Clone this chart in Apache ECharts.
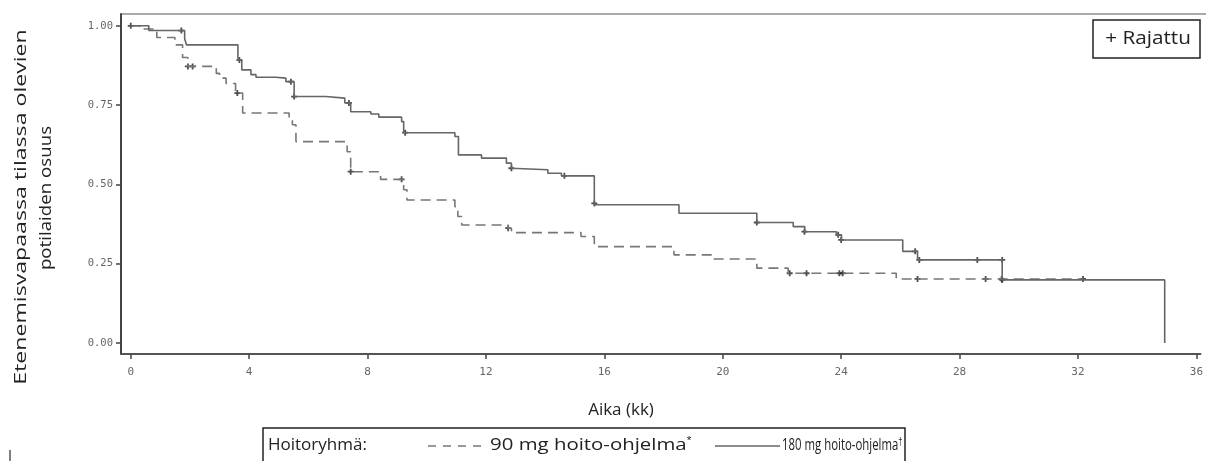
<!DOCTYPE html>
<html><head><meta charset="utf-8">
<script src="https://cdn.jsdelivr.net/npm/echarts@6/dist/echarts.min.js"></script>
<style>html,body{margin:0;padding:0;background:#fff}#c{width:1206px;height:461px}</style>
</head><body><div id="c"></div>
<script>
// Tick values
const xTicks = [0, 4, 8, 12, 16, 20, 24, 28, 32, 36];
const yTicks = [0, 0.25, 0.5, 0.75, 1];

// Kaplan-Meier steps [time (months), survival] — 180 mg (solid)
const arm180 = [[0,1],[0.61,0.985],[1.82,0.96],[1.88,0.94],[3.62,0.892],[3.75,0.861],[4.06,0.846],[4.23,0.838],
  [4.9,0.835],[5.24,0.824],[5.52,0.777],[6.58,0.772],[7.23,0.757],[7.43,0.729],[8.11,0.722],[8.38,0.712],
  [9.15,0.698],[9.22,0.663],[10.95,0.651],[11.07,0.593],[11.85,0.583],[12.69,0.567],[12.86,0.551],[12.91,0.546],
  [14.09,0.535],[14.55,0.527],[15.66,0.436],[18.52,0.409],[21.15,0.38],[22.38,0.367],[22.77,0.351],[23.84,0.341],
  [24.01,0.325],[26.08,0.289],[26.58,0.262],[29.44,0.199],[34.93,0]];
// 90 mg (dashed)
const arm90 = [[0,1],[0.3,0.99],[0.88,0.963],[1.49,0.94],[1.75,0.9],[1.93,0.872],[2.89,0.85],[3.0,0.835],
  [3.22,0.818],[3.54,0.788],[3.78,0.725],[5.35,0.71],[5.46,0.688],[5.58,0.635],[7.31,0.603],[7.43,0.54],
  [8.44,0.516],[9.22,0.483],[9.33,0.451],[10.95,0.43],[11.05,0.399],[11.18,0.372],[12.75,0.362],[12.86,0.348],
  [15.21,0.336],[15.66,0.304],[18.35,0.278],[19.64,0.265],[21.15,0.236],[22.21,0.22],[25.86,0.202],[32.17,0.202]];

// Censored observations
const cens180 = [[0,1],[1.71,0.985],[3.67,0.892],[5.41,0.824],[5.52,0.777],[7.37,0.757],[9.27,0.663],[12.86,0.551],
  [14.65,0.527],[15.66,0.44],[21.15,0.38],[22.76,0.351],[23.9,0.341],[24.0,0.325],[26.5,0.289],[26.64,0.262],
  [28.6,0.262],[29.44,0.262],[29.44,0.199]];
const cens90 = [[1.93,0.872],[2.09,0.872],[3.6,0.788],[7.43,0.54],[9.15,0.516],[12.75,0.362],[22.26,0.22],
  [22.83,0.22],[23.94,0.22],[24.05,0.22],[26.58,0.202],[28.88,0.202],[29.42,0.202],[32.17,0.202]];

const TXT = '"Open Sans", sans-serif';
const MONO = '"DejaVu Sans Mono", monospace';
const plus = 'path://M3.5,0H6.5V3.5H10V6.5H6.5V10H3.5V6.5H0V3.5H3.5Z';

const chart = echarts.init(document.getElementById('c'), null, {renderer: 'canvas'});
chart.setOption({
  animation: false,
  backgroundColor: '#fff',
  grid: {left: 121, right: 0, top: 14, bottom: 107, containLabel: false},
  xAxis: {
    type: 'value', min: -0.33, max: 36.14,
    axisLine: {show: true, onZero: false, lineStyle: {color: '#555', width: 2}},
    axisTick: {show: true, length: 5, customValues: xTicks, lineStyle: {color: '#444', width: 1.5}},
    axisLabel: {customValues: xTicks, margin: 13, color: '#666', fontFamily: MONO, fontSize: 11},
    splitLine: {show: false}
  },
  yAxis: {
    type: 'value', min: -0.0346, max: 1.0372,
    axisLine: {show: true, onZero: false, lineStyle: {color: '#444', width: 2}},
    axisTick: {show: true, length: 5, customValues: yTicks, lineStyle: {color: '#444', width: 1.5}},
    axisLabel: {customValues: yTicks, margin: 8, color: '#666', fontFamily: MONO, fontSize: 10.5,
      formatter: v => v.toFixed(2)},
    splitLine: {show: false}
  },
  series: [
    {type: 'line', name: '90 mg', data: arm90, step: 'end', symbol: 'none',
     lineStyle: {color: '#777', width: 1.6, type: [10, 6]}},
    {type: 'line', name: '180 mg', data: arm180, step: 'end', symbol: 'none',
     lineStyle: {color: '#666', width: 1.6}},
    {type: 'scatter', data: cens90, symbol: plus, symbolSize: 6, itemStyle: {color: '#222'}},
    {type: 'scatter', data: cens180, symbol: plus, symbolSize: 6, itemStyle: {color: '#222'}}
  ],
  graphic: [
    {type: 'line', shape: {x1: 121, y1: 14, x2: 1206, y2: 14}, style: {stroke: '#aaa', lineWidth: 2}},
    {type: 'text', x: 21, y: 207, rotation: Math.PI / 2, scaleX: 1.36,
     style: {text: 'Etenemisvapaassa tilassa olevien', font: '17px ' + TXT, fill: '#222', align: 'center', verticalAlign: 'middle'}},
    {type: 'text', x: 46, y: 198, rotation: Math.PI / 2, scaleX: 1.1,
     style: {text: 'potilaiden osuus', font: '17px ' + TXT, fill: '#222', align: 'center', verticalAlign: 'middle'}},
    {type: 'text', x: 621, y: 410, style: {text: 'Aika (kk)', font: '17px ' + TXT, fill: '#222', align: 'center', verticalAlign: 'middle'}},
    {type: 'rect', shape: {x: 1093, y: 20, width: 107, height: 38}, style: {fill: '#fff', stroke: '#222', lineWidth: 1.5}},
    {type: 'text', x: 1148, y: 39, scaleX: 1.15, style: {text: '+ Rajattu', font: '18px ' + TXT, fill: '#222', align: 'center', verticalAlign: 'middle'}},
    {type: 'rect', shape: {x: 263, y: 428, width: 642, height: 50}, style: {fill: '#fff', stroke: '#222', lineWidth: 1.5}},
    {type: 'text', x: 268, y: 445, style: {text: 'Hoitoryhmä:', font: '17px ' + TXT, fill: '#222', align: 'left', verticalAlign: 'middle'}},
    {type: 'line', shape: {x1: 428, y1: 446, x2: 482, y2: 446}, style: {stroke: '#777', lineWidth: 1.6, lineDash: [8, 7]}},
    {type: 'text', x: 490, y: 445, scaleX: 1.2, style: {text: '90 mg hoito-ohjelma{s|*}', font: '17px ' + TXT, fill: '#222', align: 'left', verticalAlign: 'middle',
      rich: {s: {fontSize: 10, verticalAlign: 'top', fill: '#222'}}}},
    {type: 'line', shape: {x1: 715, y1: 446, x2: 780, y2: 446}, style: {stroke: '#666', lineWidth: 1.6}},
    {type: 'text', x: 782, y: 445, scaleX: 0.67, style: {text: '180 mg hoito-ohjelma{s|†}', font: '17px ' + TXT, fill: '#222', align: 'left', verticalAlign: 'middle',
      rich: {s: {fontSize: 11, verticalAlign: 'top', fill: '#222'}}}},
    {type: 'line', shape: {x1: 10, y1: 450, x2: 10, y2: 461}, style: {stroke: '#555', lineWidth: 1.5}}
  ]
});
</script>
</body></html>
